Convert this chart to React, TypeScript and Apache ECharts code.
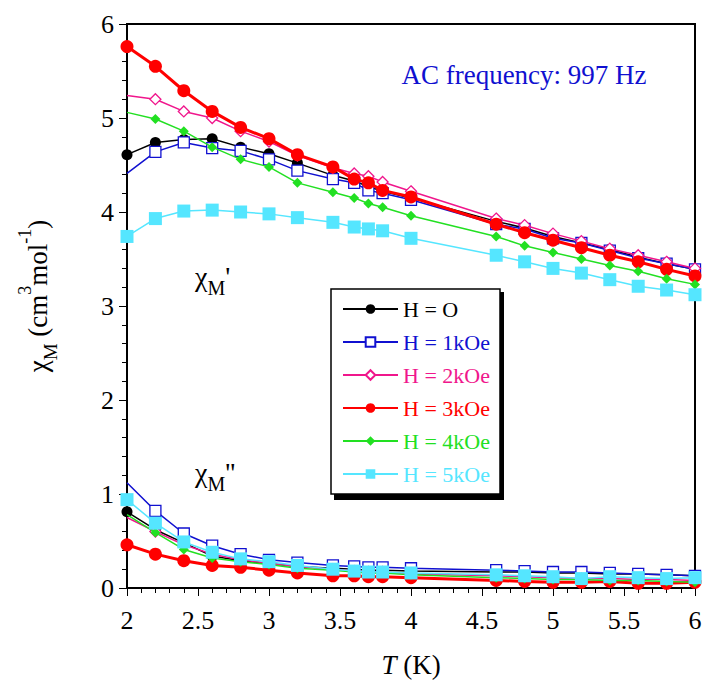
import React, { useEffect, useRef } from "react";
import * as echarts from "echarts";

const temps = [2, 2.2, 2.4, 2.6, 2.8, 3.0, 3.2, 3.45, 3.6, 3.7, 3.8, 4.0, 4.6, 4.8, 5.0, 5.2, 5.4, 5.6, 5.8, 6.0];

const names = ["H = O", "H = 1kOe", "H = 2kOe", "H = 3kOe", "H = 4kOe", "H = 5kOe"];

// chi' (in-phase)
const chiP_H0 = [4.61, 4.74, 4.77, 4.78, 4.69, 4.62, 4.52, 4.39, 4.33, 4.27, 4.22, 4.15, 3.90, 3.83, 3.74, 3.67, 3.60, 3.52, 3.45, 3.39];
const chiP_H1 = [4.41, 4.64, 4.74, 4.68, 4.65, 4.56, 4.44, 4.35, 4.31, 4.23, 4.20, 4.13, 3.87, 3.82, 3.72, 3.67, 3.59, 3.51, 3.45, 3.39];
const chiP_H2 = [5.24, 5.20, 5.07, 5.00, 4.86, 4.75, 4.60, 4.47, 4.41, 4.38, 4.32, 4.22, 3.93, 3.86, 3.77, 3.69, 3.61, 3.54, 3.47, 3.40];
const chiP_H3 = [5.76, 5.55, 5.29, 5.07, 4.90, 4.78, 4.61, 4.48, 4.35, 4.31, 4.23, 4.16, 3.87, 3.78, 3.70, 3.62, 3.54, 3.47, 3.39, 3.32];
const chiP_H4 = [5.06, 4.99, 4.86, 4.69, 4.56, 4.48, 4.31, 4.21, 4.15, 4.09, 4.05, 3.96, 3.74, 3.64, 3.57, 3.50, 3.43, 3.37, 3.29, 3.23];
const chiP_H5 = [3.74, 3.93, 4.01, 4.02, 4.00, 3.98, 3.94, 3.89, 3.84, 3.82, 3.80, 3.72, 3.54, 3.47, 3.40, 3.35, 3.28, 3.21, 3.17, 3.12];

// chi'' (out-of-phase)
const chiPP_H0 = [0.81, 0.62, 0.48, 0.34, 0.29, 0.26, 0.23, 0.21, 0.20, 0.19, 0.19, 0.18, 0.17, 0.17, 0.16, 0.16, 0.15, 0.15, 0.14, 0.13];
const chiPP_H1 = [1.12, 0.82, 0.58, 0.45, 0.36, 0.30, 0.27, 0.24, 0.23, 0.22, 0.22, 0.21, 0.19, 0.18, 0.17, 0.17, 0.16, 0.15, 0.14, 0.13];
const chiPP_H2 = [0.75, 0.60, 0.46, 0.36, 0.30, 0.26, 0.23, 0.20, 0.18, 0.17, 0.17, 0.15, 0.13, 0.12, 0.11, 0.10, 0.10, 0.09, 0.09, 0.08];
const chiPP_H3 = [0.46, 0.36, 0.29, 0.24, 0.22, 0.19, 0.16, 0.13, 0.13, 0.12, 0.12, 0.11, 0.08, 0.07, 0.06, 0.06, 0.07, 0.05, 0.05, 0.06];
const chiPP_H4 = [0.78, 0.59, 0.41, 0.32, 0.28, 0.25, 0.21, 0.19, 0.17, 0.16, 0.16, 0.14, 0.11, 0.10, 0.09, 0.09, 0.08, 0.08, 0.07, 0.06];
const chiPP_H5 = [0.94, 0.69, 0.49, 0.38, 0.31, 0.28, 0.24, 0.20, 0.18, 0.17, 0.17, 0.16, 0.14, 0.13, 0.12, 0.10, 0.12, 0.11, 0.10, 0.11];

const xTicks = { min: 2, max: 6, interval: 0.5 };
const yTicks = { min: 0, max: 6, interval: 1 };

const FONT = "Liberation Serif";

const styles = [
  { color: "#000000", symbol: "circle", size: 11, width: 1.5, fill: true, hideFirst: false },
  { color: "#1010d0", symbol: "rect", size: 11, width: 1.5, fill: false, hideFirst: true },
  { color: "#f0168c", symbol: "diamond", size: 11, width: 1.5, fill: false, hideFirst: true },
  { color: "#ff0000", symbol: "circle", size: 13, width: 3, fill: true, hideFirst: false },
  { color: "#22e022", symbol: "diamond", size: 10, width: 1.5, fill: true, hideFirst: true },
  { color: "#55e6ff", symbol: "rect", size: 13, width: 1.5, fill: true, hideFirst: false },
];

const chiP = [chiP_H0, chiP_H1, chiP_H2, chiP_H3, chiP_H4, chiP_H5];
const chiPP = [chiPP_H0, chiPP_H1, chiPP_H2, chiPP_H3, chiPP_H4, chiPP_H5];

export default function App() {
  const ref = useRef<HTMLDivElement>(null);
  useEffect(() => {
    document.body.style.margin = "0";
    if (!ref.current) return;
    const chart = echarts.init(ref.current, undefined, { renderer: "svg" });

    const mkSeries = (vals: number[], i: number) => {
      const st = styles[i];
      return {
        type: "line",
        name: names[i],
        data: vals.map((v, k) =>
          k === 0 && st.hideFirst ? { value: [temps[k], v], symbol: "none" } : { value: [temps[k], v] }
        ),
        symbol: st.symbol,
        symbolSize: st.size,
        showAllSymbol: true,
        lineStyle: { color: st.color, width: st.width },
        itemStyle: st.fill
          ? { color: st.color, borderColor: st.color, borderWidth: 0 }
          : { color: "#ffffff", borderColor: st.color, borderWidth: 1.3 },
        emphasis: { disabled: true },
        clip: false,
        z: 2 + i,
      };
    };

    const series: any[] = [];
    for (let i = 0; i < 6; i++) series.push(mkSeries(chiP[i], i));
    for (let i = 0; i < 6; i++) series.push(mkSeries(chiPP[i], i));

    const richY = {
      main: { fontFamily: FONT, fontSize: 27, color: "#000", lineHeight: 44 },
      sub: { fontFamily: FONT, fontSize: 19, color: "#000", lineHeight: 19, verticalAlign: "bottom" },
      sup: { fontFamily: FONT, fontSize: 18, color: "#000", lineHeight: 26, verticalAlign: "top" },
    };
    const richL = {
      main: { fontFamily: FONT, fontSize: 28, color: "#000", lineHeight: 44 },
      sub: { fontFamily: FONT, fontSize: 20, color: "#000", lineHeight: 20, verticalAlign: "bottom" },
    };
    const tickRich = { t: { fontFamily: FONT, fontSize: 26, color: "#000" } };

    chart.setOption({
      animation: false,
      backgroundColor: "#ffffff",
      textStyle: { fontFamily: FONT },
      grid: { left: 127, right: 10, top: 24, bottom: 92, show: true, borderColor: "#000", borderWidth: 2, backgroundColor: "transparent" },
      xAxis: {
        type: "value",
        min: xTicks.min,
        max: xTicks.max,
        interval: xTicks.interval,
        axisLine: { show: true, onZero: false, lineStyle: { color: "#000", width: 2 } },
        axisTick: { show: true, length: 8, lineStyle: { color: "#000", width: 1 } },
        minorTick: { show: true, splitNumber: 5, length: 5, lineStyle: { color: "#000", width: 1 } },
        splitLine: { show: false },
        axisLabel: { fontFamily: FONT, fontSize: 26, color: "#000", margin: 19, formatter: (v: number) => `{t|${v}}`, rich: tickRich },
      },
      yAxis: {
        type: "value",
        min: yTicks.min,
        max: yTicks.max,
        interval: yTicks.interval,
        axisLine: { show: true, onZero: false, lineStyle: { color: "#000", width: 2 } },
        axisTick: { show: true, length: 8, lineStyle: { color: "#000", width: 1 } },
        minorTick: { show: true, splitNumber: 5, length: 5, lineStyle: { color: "#000", width: 1 } },
        splitLine: { show: false },
        axisLabel: { fontFamily: FONT, fontSize: 26, color: "#000", margin: 13, formatter: (v: number) => `{t|${v}}`, rich: tickRich },
      },
      legend: {
        show: true,
        orient: "vertical",
        left: 342,
        top: 298,
        padding: 0,
        itemWidth: 55,
        itemHeight: 12,
        itemGap: 11,
        selectedMode: false,
        z: 20,
        data: names.map((n, i) => ({
          name: n,
          textStyle: { color: styles[i].color, fontFamily: FONT, fontSize: 22 },
        })),
      },
      graphic: [
        { type: "rect", z: 10, shape: { x: 334, y: 292, width: 170, height: 208 }, style: { fill: "#000" } },
        { type: "rect", z: 11, shape: { x: 331, y: 289, width: 169, height: 205 }, style: { fill: "#fff", stroke: "#000", lineWidth: 1.5 } },
        {
          type: "text",
          z: 12,
          x: 524,
          y: 75,
          style: { text: "AC frequency: 997 Hz", fill: "#1010d0", font: `27px ${FONT}`, align: "center", verticalAlign: "middle" },
        },
        {
          type: "text",
          z: 12,
          x: 195,
          y: 276,
          style: { text: "{main|χ}{sub|M}{main|'}", rich: richL, font: `28px ${FONT}`, verticalAlign: "middle" },
        },
        {
          type: "text",
          z: 12,
          x: 195,
          y: 472,
          style: { text: "{main|χ}{sub|M}{main|''}", rich: richL, font: `28px ${FONT}`, verticalAlign: "middle" },
        },
        {
          type: "text",
          z: 12,
          x: 38,
          y: 296,
          rotation: Math.PI / 2,
          style: { text: "{main|χ}{sub|M}{main| (cm}{sup|3}{main|mol}{sup|-1}{main|)}", rich: richY, font: `27px ${FONT}`, align: "center", verticalAlign: "middle" },
        },
        {
          type: "text",
          z: 12,
          x: 411,
          y: 665,
          style: {
            text: "{i|T}{a| (K)}",
            rich: {
              i: { fontFamily: FONT, fontSize: 27, fontStyle: "italic", color: "#000" },
              a: { fontFamily: FONT, fontSize: 27, color: "#000" },
            },
            align: "center",
            verticalAlign: "middle",
          },
        },
      ],
      series,
    });
    return () => chart.dispose();
  }, []);
  return <div ref={ref} style={{ width: 705, height: 680 }} />;
}
